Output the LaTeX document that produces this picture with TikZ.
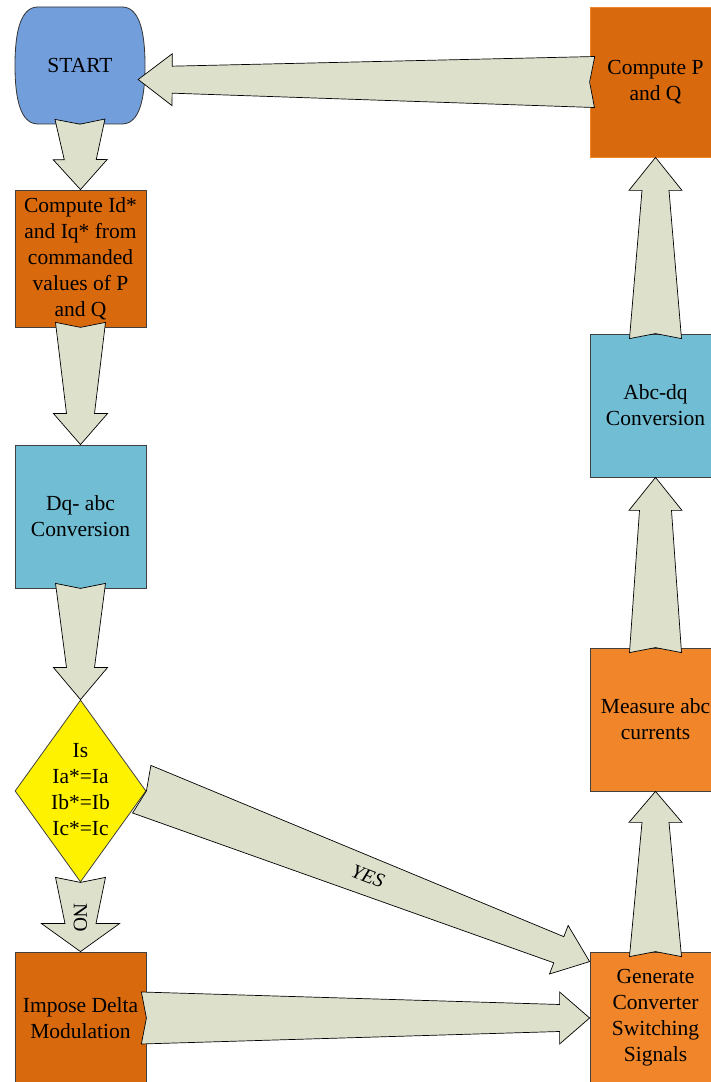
\documentclass[tikz,border=0pt]{standalone}
\usepackage{fontspec}
\setmainfont{Liberation Serif}
\usetikzlibrary{shapes.geometric,calc}

\definecolor{startblue}{RGB}{114,159,220}
\definecolor{darkorange}{RGB}{217,105,13}
\definecolor{lightorange}{RGB}{240,133,41}
\definecolor{convblue}{RGB}{113,190,212}
\definecolor{arrowgrey}{RGB}{221,225,204}

\tikzset{
  box/.style={draw=black!75, line width=0.8pt, minimum width=131pt,
    inner sep=0pt, align=center, font=\fontsize{21.5}{26}\selectfont},
  startnode/.style={inner sep=0pt, minimum width=130pt, minimum height=117pt,
    font=\fontsize{21.5}{26}\selectfont},
  decision/.style={diamond, draw=black!75, line width=0.8pt, fill=yellow,
    inner sep=0pt, minimum width=131pt, minimum height=182pt,
    font=\fontsize{21.5}{26}\selectfont},
  fatarr/.style={fill=arrowgrey, draw=black, line width=0.7pt, line join=miter},
  lbl/.style={inner sep=0pt, font=\fontsize{20}{24}\selectfont}
}

% tapered block arrow: notch point, tip, half tail, half shaft, half wing, head length
\newcommand{\fatarrow}[6]{%
  \coordinate (fa) at (#1);
  \coordinate (fb) at (#2);
  \coordinate (ft) at ($(fa)!-5pt!(fb)$);
  \coordinate (fh) at ($(fb)!#6pt!(fa)$);
  \filldraw[fatarr] ($(ft)!#3pt!90:(fb)$) -- ($(fh)!#4pt!90:(fb)$)
    -- ($(fh)!#5pt!90:(fb)$) -- (fb) -- ($(fh)!#5pt!-90:(fb)$)
    -- ($(fh)!#4pt!-90:(fb)$) -- ($(ft)!#3pt!-90:(fb)$) -- (fa) -- cycle;
}

\begin{document}
\begin{tikzpicture}[x=1pt,y=1pt]
  \useasboundingbox (0,0) rectangle (711,1082);
  \clip (0,0) rectangle (711,1082);

  % left column
  \filldraw[fill=startblue, draw=black!80, line width=0.8pt, shift={(80,1016.5)}]
    (-42,58.5) -- (42,58.5) .. controls (59,58.5) and (65,35) .. (65,0)
    .. controls (65,-35) and (59,-58.5) .. (42,-58.5) -- (-42,-58.5)
    .. controls (-59,-58.5) and (-65,-35) .. (-65,0)
    .. controls (-65,35) and (-59,58.5) .. (-42,58.5) -- cycle;
  \node[startnode] (start) at (80,1016.5) {START};
  \node[box, fill=darkorange, minimum height=137pt] (comp) at (80.5,823.5)
    {Compute Id*\\and Iq* from\\commanded\\values of P\\and Q};
  \node[box, fill=convblue, minimum height=143pt] (dq) at (80.5,565.5)
    {Dq- abc\\Conversion};
  \node[decision] (dia) at (80.5,291)
    {\makebox[0pt]{\begin{tabular}{@{}c@{}}Is\\Ia*=Ia\\Ib*=Ib\\Ic*=Ic\end{tabular}}};
  \node[box, fill=darkorange, minimum height=132pt] (imp) at (80.5,64)
    {Impose Delta\\Modulation};

  % right column
  \node[box, fill=lightorange, minimum height=132pt] (gen) at (655.5,64)
    {Generate\\Converter\\Switching\\Signals};
  \node[box, fill=lightorange, minimum height=143pt] (meas) at (655.5,362.5)
    {Measure abc\\currents};
  \node[box, fill=convblue, minimum height=143pt] (abc) at (655.5,676.5)
    {Abc-dq\\Conversion};
  \node[box, fill=darkorange, draw=lightorange, minimum height=150pt] (pq) at (655.5,1000)
    {Compute P\\and Q};

  \coordinate (yestip) at ($(gen.north west)+(0,-10)$);
  \coordinate (pqtip) at ($(start.east)+(-7,-14)$);

  \fatarrow{start.south}{comp.north}{25}{16}{27}{30}
  \fatarrow{comp.south}{dq.north}{25}{14}{27}{31}
  \fatarrow{dq.south}{dia.north}{25}{14}{27}{32}
  \fatarrow{dia.south}{imp.north}{25}{15.5}{39}{28}
  \fatarrow{imp.east}{gen.west}{26}{13.5}{26}{30}
  \fatarrow{dia.east}{yestip}{25.5}{14}{26}{33}
  \fatarrow{gen.north}{meas.south}{26}{13.5}{26.5}{31}
  \fatarrow{meas.north}{abc.south}{26}{16}{26.5}{33}
  \fatarrow{abc.north}{pq.south}{26}{13.5}{26.5}{33}
  \fatarrow{pq.west}{pqtip}{25.5}{13.5}{26}{34}

  \node[lbl, rotate=-90] (no) at (80.5,164) {NO};
  \path (dia.east) -- (yestip) node[lbl, midway, sloped, font=\fontsize{20}{24}\selectfont\itshape] (yes) {YES};
\end{tikzpicture}
\end{document}
